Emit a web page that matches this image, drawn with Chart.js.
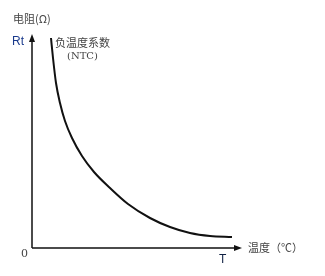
<!DOCTYPE html>
<html>
<head>
<meta charset="utf-8">
<script src="https://cdn.jsdelivr.net/npm/chart.js@4/dist/chart.umd.min.js"></script>
<style>
  body { margin: 0; background: #fff; }
</style>
</head>
<body>
<canvas id="ntc_graph" width="325" height="276"></canvas>
<script>
// valori (temperatura, resistenza) in unità arbitrarie
var temperature = [19, 21, 24, 28, 33, 40, 50, 62, 78, 96, 118, 138, 158, 178, 200];
var resistance = [210, 190, 165, 145, 127, 110, 92, 76, 60, 44, 30, 21, 15, 12, 11];

var yAxisLabel = "电阻(Ω)";
var yAxisSymbol = "Rt";
var xAxisLabel = "温度（℃）";
var xAxisSymbol = "T";
var originLabel = "0";
var curveLabel = ["负温度系数", "(NTC)"];

var points = [];
for (var i = 0; i < temperature.length; i++) {
  points.push({ x: temperature[i], y: resistance[i] });
}

// plugin per disegnare gli assi con le frecce e le scritte
var axesPlugin = {
  id: "axesArrows",
  afterDraw: function(chart) {
    var ctx = chart.ctx;
    var a = chart.chartArea;
    ctx.save();
    ctx.strokeStyle = "#111";
    ctx.fillStyle = "#111";
    ctx.lineWidth = 1.5;

    ctx.beginPath();
    ctx.moveTo(a.left, a.bottom);
    ctx.lineTo(a.left, a.top + 6);
    ctx.moveTo(a.left, a.bottom);
    ctx.lineTo(a.right - 6, a.bottom);
    ctx.stroke();

    ctx.beginPath();
    ctx.moveTo(a.left, a.top);
    ctx.lineTo(a.left - 3, a.top + 8);
    ctx.lineTo(a.left + 3, a.top + 8);
    ctx.closePath();
    ctx.fill();

    ctx.beginPath();
    ctx.moveTo(a.right, a.bottom);
    ctx.lineTo(a.right - 8, a.bottom - 3);
    ctx.lineTo(a.right - 8, a.bottom + 3);
    ctx.closePath();
    ctx.fill();

    ctx.textBaseline = "middle";
    ctx.fillStyle = "#444";
    ctx.font = "11px 'Noto Sans CJK SC'";
    ctx.textAlign = "left";
    ctx.fillText(yAxisLabel, 13, 19);
    ctx.fillText(xAxisLabel, a.right + 6, a.bottom);
    ctx.fillText(curveLabel[0], 55, 43);
    ctx.font = "10px 'DejaVu Serif'";
    ctx.fillText(curveLabel[1], 67, 56);
    ctx.font = "11px 'DejaVu Serif'";
    ctx.fillText(originLabel, 21, 254);

    ctx.fillStyle = "#1a3a8c";
    ctx.font = "12px 'Liberation Sans'";
    ctx.fillText(yAxisSymbol, 12, 42);
    ctx.fillStyle = "#112244";
    ctx.fillText(xAxisSymbol, 219, 260);
    ctx.restore();
  }
};

var ctxNtc = document.getElementById("ntc_graph").getContext("2d");

var ntcGraph = new Chart(ctxNtc, {
  type: "line",
  data: {
    datasets: [{
      data: points,
      borderColor: "#111",
      borderWidth: 2,
      pointRadius: 0,
      fill: false,
      cubicInterpolationMode: "monotone"
    }]
  },
  options: {
    responsive: false,
    animation: false,
    layout: {
      padding: { left: 32, top: 34, right: 83, bottom: 28 }
    },
    plugins: {
      legend: { display: false },
      tooltip: { enabled: false }
    },
    scales: {
      x: { type: "linear", display: false, min: 0, max: 210 },
      y: { type: "linear", display: false, min: 0, max: 214 }
    }
  },
  plugins: [axesPlugin]
});
</script>
</body>
</html>
